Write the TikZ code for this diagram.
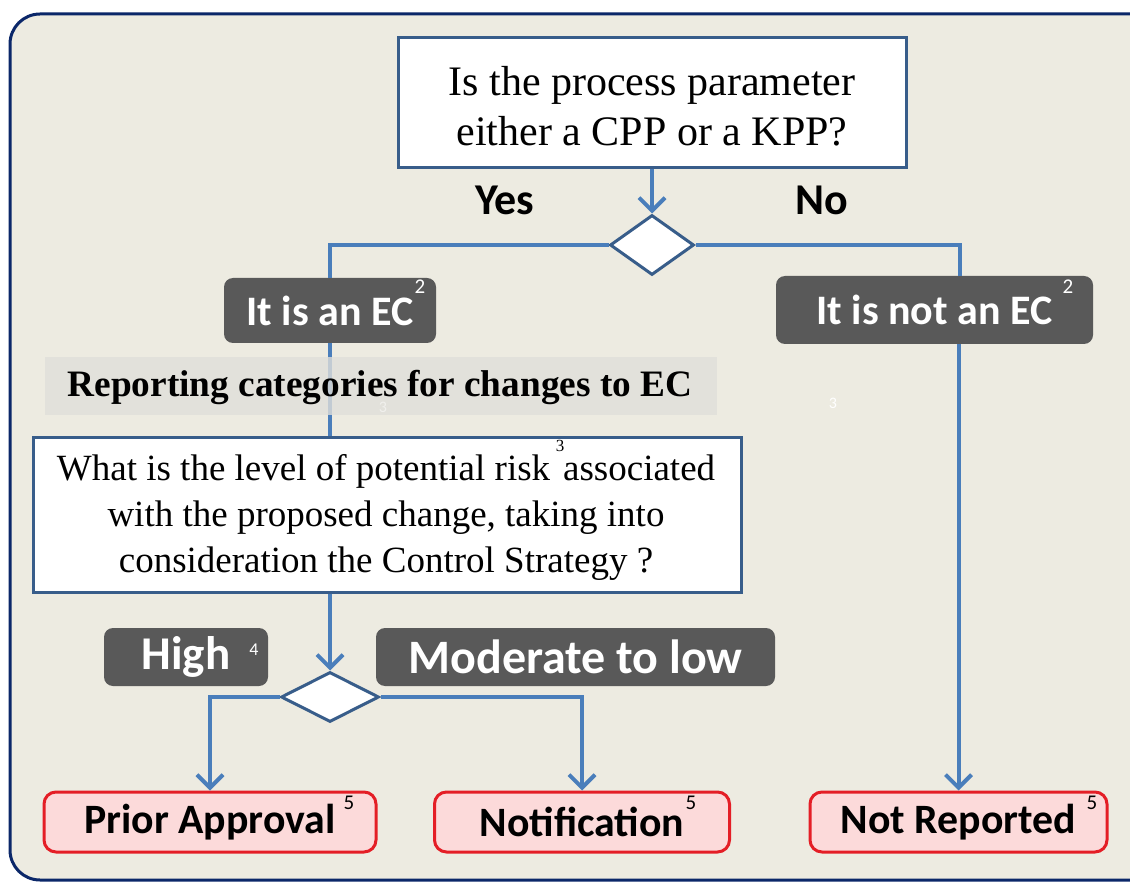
\documentclass[tikz,border=0pt]{standalone}
\usepackage{fontspec}
\setmainfont{Liberation Serif}
\newfontfamily\calfont{Carlito}
\usetikzlibrary{arrows.meta,shapes.geometric}
\definecolor{bgc}{HTML}{EDEBE1}
\definecolor{framec}{HTML}{0B2769}
\definecolor{boxc}{HTML}{385D8A}
\definecolor{linec}{HTML}{4A7EBB}
\definecolor{darkc}{HTML}{595959}
\definecolor{bandc}{HTML}{E0DFDA}
\definecolor{pinkc}{HTML}{FCDADA}
\definecolor{redc}{HTML}{E41E26}
\newcommand\myfs[2]{\fontsize{#1}{#2}\selectfont}
\begin{document}
\begin{tikzpicture}[x=1pt,y=-1pt,
  qbox/.style={draw=boxc,line width=3pt,fill=white,inner sep=0pt},
  qtext/.style={align=center,inner sep=0pt},
  dbox/.style={fill=darkc,rounded corners=9pt,text=white,inner sep=0pt,font=\calfont\bfseries\myfs{42}{48}},
  rbox/.style={draw=redc,fill=pinkc,line width=3pt,rounded corners=12pt,inner sep=0pt,font=\calfont\bfseries\myfs{41.8}{46}},
  dia/.style={diamond,draw=boxc,line width=3pt,fill=white,inner sep=0pt},
  conn/.style={draw=linec,line width=4pt},
  arr/.style={conn,-{Straight Barb[length=13pt,width=26pt]}},
  lbl/.style={font=\calfont\bfseries\myfs{44}{48}},
  supw/.style={text=white,font=\calfont\myfs{21}{21},inner sep=0pt},
  supb/.style={text=black,font=\calfont\myfs{21}{21},inner sep=0pt}]
\useasboundingbox (0,0) rectangle (1130,882);
\fill[white] (0,0) rectangle (1130,882);
\begin{scope}
\clip (0,0) rectangle (1130,882);
\draw[framec,fill=bgc,line width=3pt,rounded corners=30pt] (10,14) rectangle (1170,880);
\end{scope}

% nodes
\node[qbox,minimum width=508pt,minimum height=130pt] (top) at (652,103) {};
\node[qtext,font=\myfs{42}{50}] (topt) at (652,106) {Is the process parameter\\either a CPP or a KPP?};
\node[dia,minimum width=84pt,minimum height=60pt] (d1) at (652,245) {};
\node[lbl] (yes) at (505,200) {Yes};
\node[lbl] (no) at (822,200) {No};
\node[dbox,minimum width=212pt,minimum height=65pt] (ec) at (330,310.5) {It is an EC};
\node[supw] (s1) at (420,287) {2};
\node[dbox,minimum width=317pt,minimum height=68pt] (nec) at (934.5,310) {It is not an EC};
\node[supw] (s2) at (1068,287) {2};

\draw[conn] (d1.west) -| (ec.north);
\draw[conn] (d1.east) -| (960,276) coordinate (ntop);

\node[qbox,minimum width=708pt,minimum height=154pt] (q) at (387,515) {};
\node[qtext,font=\myfs{37}{46}] (qt) at (386,517) {What is the level of potential risk\hspace{0.35em}associated\\with the proposed change, taking into\\consideration the Control Strategy ?};
\node[font=\myfs{17}{17},inner sep=0pt] (s3) at (560,446) {3};

\draw[conn] (ec.south) -- (ec.south |- q.north);
\node[fill=bandc,fill opacity=0.8,minimum width=672pt,minimum height=58pt,inner sep=0pt] (band) at (381,386) {};
\node[font=\bfseries\myfs{37.3}{40},inner sep=0pt] (bandt) at (380,387) {Reporting categories for changes to EC};
\node[text=white,text opacity=0.5,font=\calfont\myfs{16}{16},inner sep=0pt] (f1) at (383,407) {3};
\node[text=white,font=\calfont\myfs{16}{16},inner sep=0pt] (f2) at (833,403) {3};

\node[dbox,minimum width=164pt,minimum height=58pt,font=\calfont\bfseries\myfs{47}{50}] (high) at (186,657) {High};
\node[text=white,font=\calfont\myfs{18}{18},inner sep=0pt] (s4) at (254,650) {4};
\node[dbox,minimum width=399pt,minimum height=58pt,font=\calfont\bfseries\myfs{48}{50}] (mod) at (575.5,657) {Moderate to low};
\node[dia,minimum width=98pt,minimum height=50pt] (d2) at (330,697) {};

\node[rbox,minimum width=332pt,minimum height=60pt] (pa) at (210,822) {Prior Approval};
\node[supb] (s5) at (349,803) {5};
\node[rbox,minimum width=295pt,minimum height=60pt] (nt) at (582,822) {Notification};
\node[supb] (s6) at (691,803) {5};
\node[rbox,minimum width=297pt,minimum height=60pt] (nr) at (958.5,822) {Not Reported};
\node[supb] (s7) at (1092,803) {5};

% connectors
\draw[arr] (top.south) -- (d1.north);
\draw[arr] (d2.north |- q.south) -- (d2.north);
\draw[arr] (d2.west) -| (pa.north);
\draw[arr] (d2.east) -| (nt.north);
\draw[arr] (nr.north |- nec.south) -- (nr.north);
\end{tikzpicture}
\end{document}
